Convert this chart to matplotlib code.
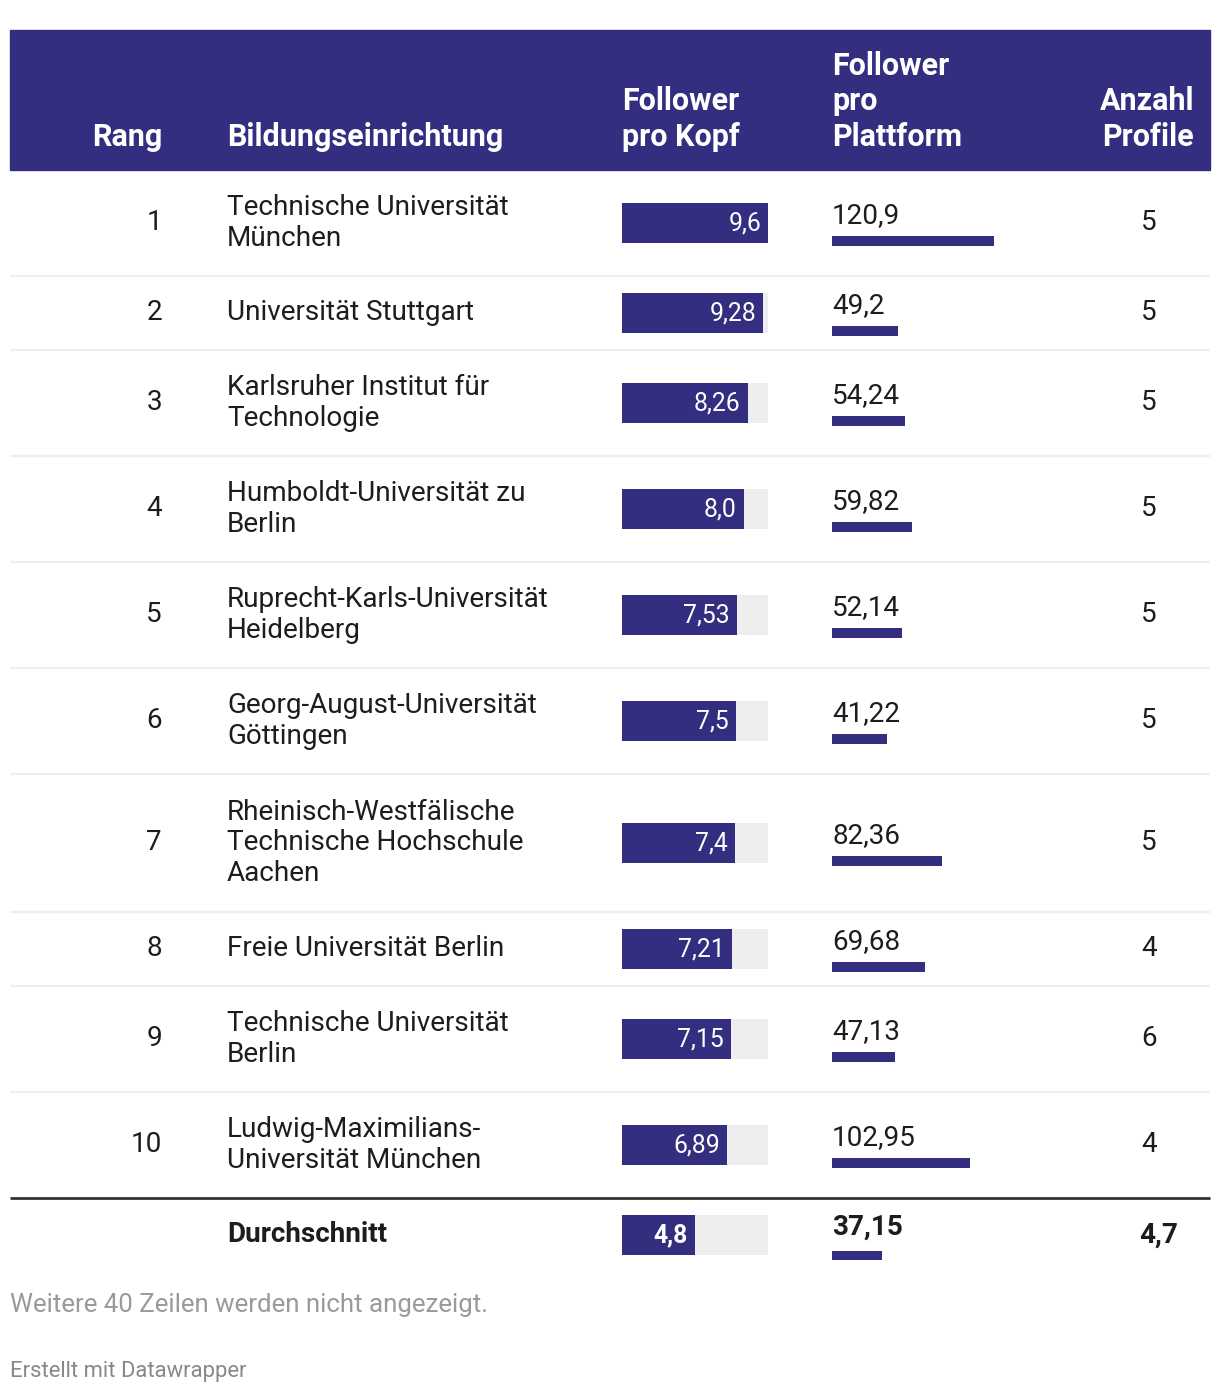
import matplotlib.pyplot as plt

plt.rcParams['font.family'] = ['Roboto', 'DejaVu Sans']

# data
rang = ['1', '2', '3', '4', '5', '6', '7', '8', '9', '10']
namen = [
    'Technische Universität\nMünchen',
    'Universität Stuttgart',
    'Karlsruher Institut für\nTechnologie',
    'Humboldt-Universität zu\nBerlin',
    'Ruprecht-Karls-Universität\nHeidelberg',
    'Georg-August-Universität\nGöttingen',
    'Rheinisch-Westfälische\nTechnische Hochschule\nAachen',
    'Freie Universität Berlin',
    'Technische Universität\nBerlin',
    'Ludwig-Maximilians-\nUniversität München',
]
pro_kopf = [9.6, 9.28, 8.26, 8.0, 7.53, 7.5, 7.4, 7.21, 7.15, 6.89]
pro_kopf_labels = ['9,6', '9,28', '8,26', '8,0', '7,53', '7,5', '7,4', '7,21', '7,15', '6,89']
pro_plattform = [120.9, 49.2, 54.24, 59.82, 52.14, 41.22, 82.36, 69.68, 47.13, 102.95]
pro_plattform_labels = ['120,9', '49,2', '54,24', '59,82', '52,14', '41,22', '82,36', '69,68', '47,13', '102,95']
profile = ['5', '5', '5', '5', '5', '5', '5', '4', '6', '4']

avg_kopf = 4.8
avg_kopf_label = '4,8'
avg_plattform = 37.15
avg_plattform_label = '37,15'
avg_profile = '4,7'

# colors
NAVY = '#332e80'
GREY_BG = '#eeeeee'
TEXT = '#1d1d1d'

W, H = 1220, 1396
fig = plt.figure(figsize=(W / 100, H / 100), dpi=100)
ax = fig.add_axes([0, 0, 1, 1])
ax.set_xlim(0, W)
ax.set_ylim(H, 0)
ax.axis('off')

# column axes for the bar columns (pixel rows, value columns)
def col_axes(x0, width, vmax):
    a = fig.add_axes([x0 / W, 0, width / W, 1])
    a.set_xlim(0, vmax)
    a.set_ylim(H, 0)
    a.axis('off')
    return a

ax_kopf = col_axes(622, 146, max(pro_kopf))
ax_platt = col_axes(832, 162, max(pro_plattform))

body_fs = 20.1
head_fs = 22.0
val_fs = 17.8

# header
ax.add_patch(plt.Rectangle((10, 30), 1200, 140, color=NAVY, zorder=0))
hkw = dict(color='white', fontweight='bold', fontsize=head_fs, va='bottom', linespacing=1.23)
ax.text(162, 152, 'Rang', ha='right', **hkw)
ax.text(227, 152, 'Bildungseinrichtung', ha='left', **hkw)
ax.text(622, 152, 'Follower\npro Kopf', ha='left', **hkw)
ax.text(832, 152, 'Follower\npro\nPlattform', ha='left', **hkw)
ax.text(1194, 152, 'Anzahl\nProfile', ha='right', multialignment='right', **hkw)

# rows
top = 170
centers = []
for i, name in enumerate(namen):
    nlines = name.count('\n') + 1
    h = 74 + 32 * (nlines - 1)
    c = top + h / 2
    centers.append(c)
    top += h
    if i < len(namen) - 1:
        ax.plot([10, 1210], [top, top], color=GREY_BG, lw=1.6, solid_capstyle='butt')
bottom_line = top
ax.plot([10, 1210], [bottom_line, bottom_line], color='#333333', lw=2, solid_capstyle='butt')

for i, c in enumerate(centers):
    ax.text(162, c, rang[i], ha='right', va='center', fontsize=body_fs, color=TEXT)
    ax.text(227, c, namen[i], ha='left', va='center', fontsize=body_fs, color=TEXT, linespacing=1.18)
    ax.text(1157, c, profile[i], ha='right', va='center', fontsize=body_fs, color=TEXT)
    ax_platt.text(0, c - 7, pro_plattform_labels[i], ha='left', va='center',
                  fontsize=body_fs, color=TEXT)

# pro Kopf bars
ax_kopf.barh(centers, [max(pro_kopf)] * len(centers), height=40, color=GREY_BG, zorder=1)
ax_kopf.barh(centers, pro_kopf, height=40, color=NAVY, zorder=2)
for c, v, lab in zip(centers, pro_kopf, pro_kopf_labels):
    ax_kopf.annotate(lab, (v, c), xytext=(-5, 0), textcoords='offset points',
                     ha='right', va='center', fontsize=val_fs, color='white', zorder=3)

# pro Plattform bars
ax_platt.barh([c + 18 for c in centers], pro_plattform, height=10, color=NAVY)

# average row
ac = bottom_line + 37
ax.text(227, ac, 'Durchschnitt', ha='left', va='center', fontsize=body_fs,
        fontweight='bold', color=TEXT)
ax_kopf.barh([ac], [max(pro_kopf)], height=40, color=GREY_BG, zorder=1)
ax_kopf.barh([ac], [avg_kopf], height=40, color=NAVY, zorder=2)
ax_kopf.annotate(avg_kopf_label, (avg_kopf, ac), xytext=(-5, 0), textcoords='offset points',
                 ha='right', va='center', fontsize=val_fs, color='white',
                 fontweight='bold', zorder=3)
ax_platt.text(0, ac - 8, avg_plattform_label, ha='left', va='center', fontsize=body_fs,
              fontweight='bold', color=TEXT)
ax_platt.barh([ac + 20], [avg_plattform], height=9, color=NAVY)
ax.text(1178, ac, avg_profile, ha='right', va='center', fontsize=body_fs,
        fontweight='bold', color=TEXT)

# footer
ax.text(10, 1305, 'Weitere 40 Zeilen werden nicht angezeigt.', ha='left', va='center',
        fontsize=18.6, color='#9a9a9a')
ax.text(10, 1372, 'Erstellt mit Datawrapper', ha='left', va='center',
        fontsize=15.8, color='#888888')

fig.savefig('out.png', dpi=100, facecolor='white')
